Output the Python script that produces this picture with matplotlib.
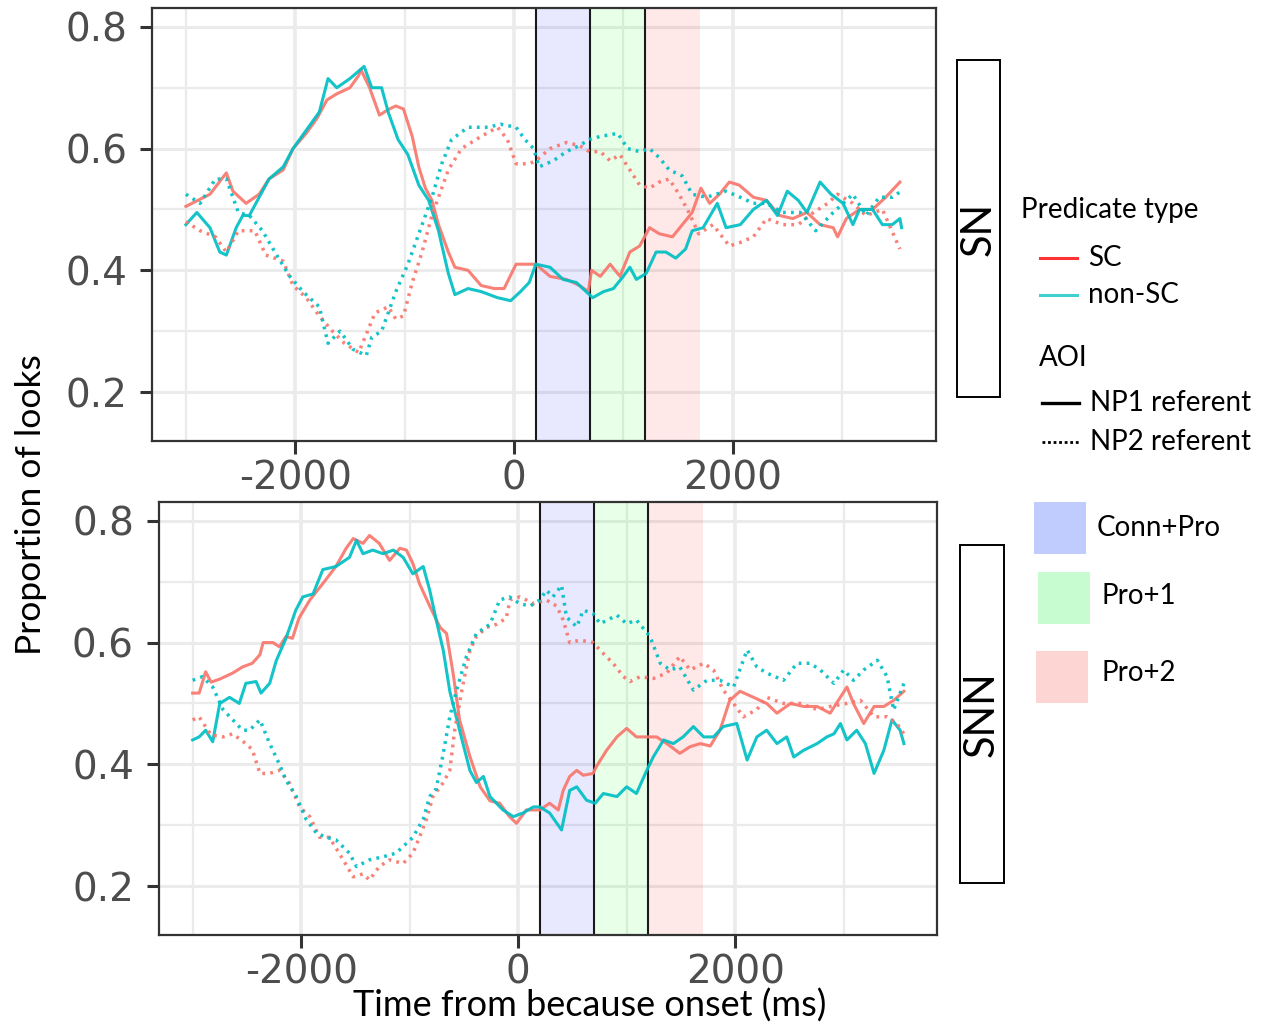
import matplotlib
matplotlib.use("Agg")
import matplotlib.pyplot as plt
from matplotlib.patches import Rectangle
from matplotlib.lines import Line2D

plt.rcParams['font.family'] = ['DejaVu Sans']
plt.rcParams['axes.unicode_minus'] = False

# ---------------- DATA ----------------
# Panel SN
SN_SC_NP1_t = [-3000, -2780, -2630, -2570, -2450, -2330, -2240, -2110, -2020, -1900, -1800, -1710, -1620, -1500, -1420, -1400,
               -1320, -1230, -1140, -1080, -1010, -930, -870, -810, -750, -690, -600, -540, -420, -300, -180, -90, 20, 60,
               200, 330, 480, 600, 680, 710, 790, 880, 970, 1060, 1150, 1240, 1330, 1450, 1540, 1630, 1710, 1790, 1880,
               1970, 2060, 2190, 2310, 2430, 2550, 2680, 2800, 2920, 2960, 3040, 3160, 3280, 3400, 3530]
SN_SC_NP1_y = [0.505, 0.525, 0.56, 0.53, 0.51, 0.525, 0.55, 0.565, 0.60, 0.625, 0.65, 0.68, 0.69, 0.70, 0.72, 0.73,
               0.70, 0.655, 0.665, 0.67, 0.665, 0.62, 0.57, 0.535, 0.515, 0.475, 0.43, 0.405, 0.40, 0.375, 0.37, 0.37, 0.41, 0.41,
               0.41, 0.39, 0.385, 0.375, 0.365, 0.40, 0.39, 0.41, 0.39, 0.43, 0.44, 0.47, 0.46, 0.455, 0.475, 0.495, 0.535, 0.51, 0.525,
               0.545, 0.54, 0.52, 0.515, 0.49, 0.485, 0.495, 0.475, 0.47, 0.455, 0.485, 0.50, 0.50, 0.52, 0.545]

SN_NSC_NP1_t = [-3000, -2900, -2780, -2690, -2630, -2540, -2480, -2420, -2330, -2240, -2110, -2020, -1900, -1780, -1700, -1620,
                -1500, -1370, -1300, -1210, -1150, -1060, -970, -870, -780, -690, -600, -540, -420, -300, -150, -30, 60, 140,
                200, 330, 450, 570, 660, 720, 820, 910, 1000, 1060, 1120, 1210, 1300, 1390, 1480, 1570, 1630, 1730, 1860,
                1940, 2070, 2190, 2310, 2410, 2500, 2600, 2680, 2800, 2900, 3010, 3100, 3160, 3280, 3370, 3460, 3530, 3545]
SN_NSC_NP1_y = [0.475, 0.495, 0.47, 0.43, 0.425, 0.47, 0.49, 0.49, 0.52, 0.55, 0.57, 0.60, 0.63, 0.66, 0.715, 0.70,
                0.715, 0.735, 0.70, 0.70, 0.66, 0.615, 0.59, 0.54, 0.515, 0.465, 0.395, 0.36, 0.37, 0.365, 0.355, 0.35, 0.365, 0.38,
                0.41, 0.405, 0.385, 0.38, 0.365, 0.355, 0.365, 0.37, 0.39, 0.405, 0.385, 0.395, 0.43, 0.43, 0.42, 0.435, 0.465, 0.47, 0.51,
                0.47, 0.475, 0.50, 0.515, 0.49, 0.53, 0.515, 0.495, 0.545, 0.525, 0.51, 0.475, 0.50, 0.50, 0.475, 0.475, 0.485, 0.47]

SN_SC_NP2_t = [-3000, -2870, -2730, -2630, -2520, -2370, -2270, -2110, -2020, -1900, -1780, -1660, -1550, -1420, -1350, -1270,
               -1150, -1080, -1010, -930, -840, -750, -690, -600, -480, -300, -150, -60, 20, 140, 200, 330, 480, 600, 690,
               790, 880, 970, 1060, 1150, 1240, 1330, 1420, 1510, 1600, 1690, 1820, 1970, 2060, 2190, 2310, 2460, 2600,
               2740, 2870, 2960, 3100, 3220, 3370, 3530]
SN_SC_NP2_y = [0.48, 0.465, 0.455, 0.43, 0.465, 0.465, 0.425, 0.415, 0.375, 0.355, 0.325, 0.30, 0.28, 0.265, 0.295, 0.33,
               0.34, 0.32, 0.325, 0.38, 0.43, 0.49, 0.52, 0.565, 0.60, 0.62, 0.635, 0.615, 0.575, 0.575, 0.58, 0.60, 0.61, 0.605, 0.595,
               0.595, 0.58, 0.59, 0.565, 0.54, 0.535, 0.545, 0.55, 0.525, 0.495, 0.46, 0.475, 0.44, 0.445, 0.455, 0.485, 0.475, 0.475,
               0.495, 0.51, 0.525, 0.51, 0.49, 0.50, 0.435]

SN_NSC_NP2_t = [-3000, -2870, -2730, -2630, -2520, -2420, -2300, -2170, -2050, -1930, -1780, -1700, -1590, -1470, -1350, -1300,
                -1210, -1080, -970, -840, -750, -660, -570, -420, -240, -120, 20, 100, 180, 230, 360, 480, 600, 690, 790,
                950, 1040, 1150, 1240, 1330, 1420, 1540, 1630, 1760, 1940, 2070, 2190, 2310, 2460, 2620, 2760, 2920, 3100,
                3220, 3340, 3460, 3540]
SN_NSC_NP2_y = [0.525, 0.51, 0.55, 0.55, 0.495, 0.49, 0.465, 0.425, 0.39, 0.365, 0.34, 0.28, 0.30, 0.27, 0.26, 0.29,
                0.30, 0.365, 0.41, 0.475, 0.52, 0.575, 0.615, 0.635, 0.635, 0.64, 0.635, 0.615, 0.60, 0.57, 0.58, 0.595, 0.605, 0.615, 0.62,
                0.625, 0.60, 0.595, 0.60, 0.585, 0.565, 0.555, 0.525, 0.52, 0.53, 0.52, 0.51, 0.51, 0.495, 0.495, 0.465, 0.495, 0.525,
                0.49, 0.52, 0.52, 0.53]

# Panel SNN
SNN_SC_NP1_t = [-3000, -2940, -2880, -2830, -2750, -2630, -2540, -2450, -2380, -2350, -2260, -2200, -2140, -2080, -2020, -1920,
                -1800, -1680, -1585, -1520, -1430, -1370, -1280, -1185, -1090, -1030, -970, -910, -815, -720, -660, -600,
                -540, -445, -350, -260, -170, -80, -15, 75, 200, 290, 370, 415, 475, 540, 600, 690, 720, 815, 910, 1000,
                1090, 1185, 1275, 1370, 1490, 1585, 1680, 1770, 1860, 1950, 2045, 2170, 2290, 2385, 2510, 2630, 2755, 2875,
                3030, 3090, 3185, 3280, 3370, 3460, 3555]
SNN_SC_NP1_y = [0.517, 0.517, 0.552, 0.535, 0.54, 0.55, 0.56, 0.566, 0.58, 0.60, 0.60, 0.593, 0.61, 0.607, 0.64, 0.67,
                0.697, 0.725, 0.755, 0.771, 0.763, 0.776, 0.763, 0.735, 0.755, 0.752, 0.73, 0.697, 0.66, 0.625, 0.615, 0.55,
                0.473, 0.413, 0.363, 0.34, 0.336, 0.314, 0.303, 0.325, 0.325, 0.336, 0.325, 0.357, 0.38, 0.39, 0.382, 0.385, 0.396, 0.423, 0.445, 0.459,
                0.445, 0.445, 0.445, 0.434, 0.418, 0.429, 0.434, 0.43, 0.456, 0.505, 0.52, 0.51, 0.50, 0.484, 0.50, 0.495, 0.495, 0.484,
                0.527, 0.50, 0.467, 0.495, 0.495, 0.505, 0.52]

SNN_NSC_NP1_t = [-3000, -2940, -2880, -2815, -2750, -2660, -2570, -2510, -2415, -2370, -2290, -2230, -2140, -2050, -1985, -1890,
                 -1800, -1680, -1555, -1490, -1430, -1340, -1245, -1150, -1060, -970, -875, -815, -755, -690, -630, -540,
                 -445, -385, -320, -260, -140, -45, 45, 140, 200, 290, 400, 475, 540, 630, 710, 785, 910, 1000, 1090, 1185,
                 1245, 1340, 1430, 1520, 1615, 1710, 1800, 1890, 2015, 2110, 2200, 2290, 2385, 2475, 2540, 2630, 2755, 2845,
                 2910, 2970, 3030, 3120, 3200, 3280, 3370, 3445, 3520, 3555]
SNN_NSC_NP1_y = [0.44, 0.445, 0.456, 0.437, 0.50, 0.51, 0.50, 0.533, 0.536, 0.517, 0.533, 0.57, 0.607, 0.653, 0.675, 0.68,
                 0.72, 0.725, 0.74, 0.768, 0.746, 0.752, 0.746, 0.752, 0.74, 0.713, 0.725, 0.686, 0.637, 0.587, 0.52, 0.456,
                 0.39, 0.37, 0.38, 0.347, 0.325, 0.314, 0.32, 0.33, 0.33, 0.32, 0.292, 0.357, 0.363, 0.341, 0.336, 0.352, 0.347, 0.363, 0.352, 0.39,
                 0.412, 0.44, 0.434, 0.445, 0.462, 0.445, 0.445, 0.462, 0.467, 0.407, 0.445, 0.456, 0.434, 0.445, 0.412, 0.423, 0.434, 0.445,
                 0.45, 0.467, 0.44, 0.456, 0.434, 0.385, 0.423, 0.473, 0.456, 0.434]

SNN_SC_NP2_t = [-3000, -2940, -2830, -2720, -2630, -2510, -2450, -2380, -2290, -2200, -2110, -2015, -1920, -1830, -1740, -1650,
                -1520, -1430, -1370, -1280, -1185, -1060, -970, -910, -845, -785, -690, -630, -585, -510, -445, -385, -290,
                -200, -110, -75, 15, 75, 140, 260, 355, 415, 475, 570, 690, 785, 875, 970, 1030, 1125, 1245, 1370, 1490,
                1585, 1710, 1800, 1890, 1985, 2075, 2200, 2290, 2445, 2600, 2755, 2875, 3030, 3155, 3280, 3400, 3490, 3555]
SNN_SC_NP2_y = [0.473, 0.478, 0.448, 0.445, 0.45, 0.434, 0.424, 0.385, 0.385, 0.39, 0.37, 0.33, 0.314, 0.28, 0.28, 0.254,
                0.215, 0.22, 0.21, 0.232, 0.243, 0.237, 0.254, 0.28, 0.31, 0.347, 0.37, 0.39, 0.456, 0.53, 0.587, 0.61, 0.625,
                0.63, 0.64, 0.67, 0.675, 0.67, 0.664, 0.67, 0.66, 0.637, 0.60, 0.604, 0.60, 0.582, 0.566, 0.544, 0.536, 0.544, 0.541, 0.55, 0.577,
                0.555, 0.566, 0.555, 0.522, 0.50, 0.478, 0.49, 0.51, 0.50, 0.50, 0.49, 0.495, 0.50, 0.505, 0.478, 0.478, 0.467, 0.45]

SNN_NSC_NP2_t = [-3000, -2910, -2815, -2720, -2630, -2540, -2475, -2380, -2290, -2200, -2140, -2045, -1955, -1860, -1770, -1680,
                 -1555, -1490, -1370, -1245, -1125, -1030, -970, -875, -815, -755, -690, -630, -570, -477, -385, -260, -170,
                 -80, 15, 110, 200, 260, 320, 400, 445, 540, 600, 690, 755, 910, 1000, 1090, 1215, 1310, 1400, 1490, 1615,
                 1740, 1860, 1985, 2110, 2200, 2290, 2445, 2570, 2690, 2785, 2910, 3000, 3090, 3185, 3310, 3400, 3460, 3555]
SNN_NSC_NP2_y = [0.538, 0.544, 0.527, 0.49, 0.473, 0.456, 0.456, 0.473, 0.434, 0.40, 0.374, 0.347, 0.31, 0.287, 0.28, 0.276,
                 0.254, 0.232, 0.243, 0.248, 0.254, 0.27, 0.28, 0.31, 0.347, 0.36, 0.418, 0.478, 0.52, 0.577, 0.615, 0.63, 0.67,
                 0.675, 0.664, 0.66, 0.67, 0.686, 0.675, 0.694, 0.642, 0.626, 0.653, 0.648, 0.631, 0.645, 0.631, 0.637, 0.61, 0.566, 0.555, 0.56, 0.522,
                 0.538, 0.538, 0.527, 0.588, 0.56, 0.55, 0.538, 0.566, 0.566, 0.555, 0.533, 0.555, 0.538, 0.555, 0.571, 0.544, 0.489, 0.533]

panel_names = ["SN", "SNN"]
predicate_labels = ["SC", "non-SC"]
aoi_labels = ["NP1 referent", "NP2 referent"]
window_labels = ["Conn+Pro", "Pro+1", "Pro+2"]
window_edges = [200, 700, 1200, 1700]
x_ticks = [-2000, 0, 2000]
x_minor = [-3000, -1000, 1000, 3000]
y_ticks = [0.2, 0.4, 0.6, 0.8]
y_minor = [0.3, 0.5, 0.7]

# ---------------- STYLE ----------------
W, H = 1262, 1027
RED = "#F8766D"
CYAN = "#00BFC4"
span_colors = ["#0000ff", "#00ff00", "#ff0000"]
legend_box_colors = ["#c0ccfd", "#c6fcd0", "#fdd6d4"]
GRID = "#ebebeb"
TICKCOL = "#4d4d4d"
LABEL_FONT = ["Lato", "DejaVu Sans"]
DOT = (0, (0.8, 1.5))

fig = plt.figure(figsize=(W / 100, H / 100), dpi=100)


def fx(x):
    return x / W


def fy(y):
    return 1 - y / H


axes_px = [(152, 8, 936, 441), (159, 502, 937, 935)]
panels = [
    [(SN_SC_NP1_t, SN_SC_NP1_y), (SN_NSC_NP1_t, SN_NSC_NP1_y), (SN_SC_NP2_t, SN_SC_NP2_y), (SN_NSC_NP2_t, SN_NSC_NP2_y)],
    [(SNN_SC_NP1_t, SNN_SC_NP1_y), (SNN_NSC_NP1_t, SNN_NSC_NP1_y), (SNN_SC_NP2_t, SNN_SC_NP2_y), (SNN_NSC_NP2_t, SNN_NSC_NP2_y)],
]
styles = [(RED, "-", 2.2), (CYAN, "-", 2.2), (RED, DOT, 2.5), (CYAN, DOT, 2.5)]

for (x0, y0, x1, y1), series in zip(axes_px, panels):
    ax = fig.add_axes([fx(x0), fy(y1), fx(x1 - x0), (y1 - y0) / H])
    ax.set_xlim(-3310, 3860)
    ax.set_ylim(0.1195, 0.831)
    for v in x_minor:
        ax.axvline(v, color=GRID, lw=1.6, zorder=0)
    for v in x_ticks:
        ax.axvline(v, color=GRID, lw=2.6, zorder=0)
    for v in y_minor:
        ax.axhline(v, color=GRID, lw=1.6, zorder=0)
    for v in y_ticks:
        ax.axhline(v, color=GRID, lw=2.2, zorder=0)
    for i, c in enumerate(span_colors):
        ax.axvspan(window_edges[i], window_edges[i + 1], color=c, alpha=0.09, lw=0, zorder=1)
    for e in window_edges[:3]:
        ax.axvline(e, color="#1a1a1a", lw=1.5, zorder=2)
    for (t, y), (col, ls, lw) in zip(series, styles):
        ax.plot(t, y, color=col, ls=ls, lw=lw, zorder=3, alpha=0.92)
    ax.set_xticks(x_ticks)
    ax.set_xticklabels([str(v) for v in x_ticks])
    ax.set_yticks(y_ticks)
    ax.set_yticklabels([f"{v:.1f}" for v in y_ticks])
    ax.tick_params(axis="both", length=9, width=2.2, color="#333333", labelcolor=TICKCOL,
                   labelsize=28, pad=4)
    ax.tick_params(axis="y", pad=9)
    for s in ax.spines.values():
        s.set_color("#333333")
        s.set_linewidth(1.6)

# Strip labels
strips = [(957, 60, 1000, 397), (960, 545, 1004, 883)]
for (x0, y0, x1, y1), name in zip(strips, panel_names):
    fig.add_artist(Rectangle((fx(x0), fy(y1)), fx(x1 - x0), (y1 - y0) / H,
                             transform=fig.transFigure, fill=False, ec="black", lw=1.4))
    fig.text(fx((x0 + x1) / 2), fy((y0 + y1) / 2), name, rotation=90, ha="center", va="center",
             fontsize=30, family=LABEL_FONT, color="black")

# Axis labels
fig.text(fx(31), fy(505), "Proportion of looks", rotation=90, ha="center", va="center",
         fontsize=25.5, family=LABEL_FONT)
fig.text(fx(590), fy(1006), "Time from because onset (ms)", ha="center", va="center",
         fontsize=26, family=LABEL_FONT)

# Legend: predicate type
LFS = 20
fig.text(fx(1021), fy(210), "Predicate type", ha="left", va="center", fontsize=LFS, family=LABEL_FONT)
leg_line_cols = ["#ff3333", "#40d0d0"]
for lab, col, yy in zip(predicate_labels, leg_line_cols, [258, 295]):
    fig.add_artist(Line2D([fx(1040), fx(1077)], [fy(yy), fy(yy)], transform=fig.transFigure, color=col, lw=2.2))
    fig.text(fx(1088), fy(yy), lab, ha="left", va="center", fontsize=LFS, family=LABEL_FONT)

# Legend: AOI
fig.text(fx(1039), fy(358), "AOI", ha="left", va="center", fontsize=LFS, family=LABEL_FONT)
for lab, ls, yy in zip(aoi_labels, ["-", (0, (1.0, 1.0))], [403, 442]):
    fig.add_artist(Line2D([fx(1042), fx(1079)], [fy(yy), fy(yy)], transform=fig.transFigure, color="black",
                          lw=2.4 if ls == "-" else 2.0, ls=ls))
    fig.text(fx(1090), fy(yy), lab, ha="left", va="center", fontsize=LFS, family=LABEL_FONT)

# Legend: windows
boxes = [(1034, 502, 1097, 528), (1038, 572, 1101, 596), (1036, 651, 1101, 673)]
for (bx, by, tx, ty), lab, col in zip(boxes, window_labels, legend_box_colors):
    fig.add_artist(Rectangle((fx(bx), fy(by + 52)), fx(52), 52 / H, transform=fig.transFigure,
                             fc=col, ec="none"))
    fig.text(fx(tx), fy(ty), lab, ha="left", va="center", fontsize=LFS, family=LABEL_FONT)

fig.savefig("out.png", dpi=100)
